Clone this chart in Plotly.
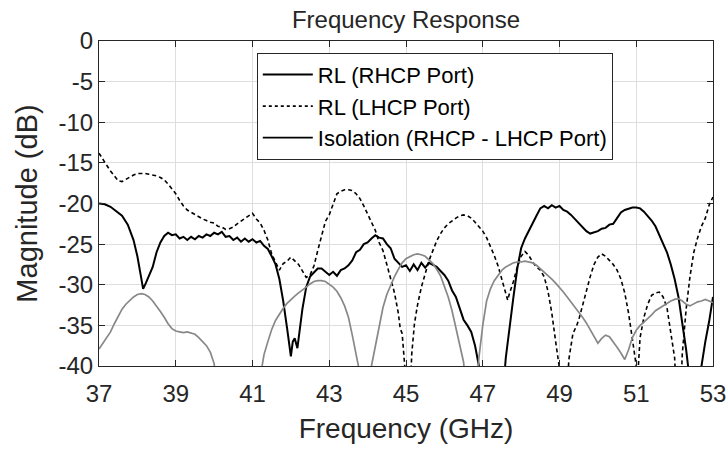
import plotly.graph_objects as go

# ---- data ----
rhcp_f = [37.0, 37.15, 37.3, 37.45, 37.6, 37.75, 37.9, 38.0, 38.1, 38.15, 38.22, 38.3, 38.4, 38.5, 38.6, 38.7,
          38.8, 38.9, 39.0, 39.1, 39.2, 39.3, 39.4, 39.5, 39.6, 39.7, 39.8, 39.9, 40.0, 40.1, 40.2, 40.3, 40.4,
          40.5, 40.6, 40.7, 40.8, 40.9, 41.0, 41.1, 41.2, 41.3, 41.4, 41.5, 41.6, 41.7, 41.8, 41.9, 41.95, 42.0,
          42.05, 42.1, 42.17, 42.22, 42.3, 42.4, 42.5, 42.6, 42.7, 42.8, 42.9, 43.0, 43.1, 43.2, 43.3, 43.4,
          43.5, 43.6, 43.7, 43.8, 43.9, 44.0, 44.1, 44.2, 44.3, 44.4, 44.5, 44.6, 44.7, 44.8, 44.9, 45.0, 45.1,
          45.2, 45.3, 45.4, 45.5, 45.6, 45.7, 45.8, 45.9, 46.0, 46.1, 46.2, 46.3, 46.4, 46.5, 46.6, 46.7, 46.8,
          46.9, 46.95, 47.55, 47.6, 47.7, 47.8, 47.9, 48.0, 48.1, 48.2, 48.3, 48.4, 48.5, 48.6, 48.7, 48.8, 48.9,
          49.0, 49.1, 49.2, 49.3, 49.4, 49.5, 49.6, 49.7, 49.8, 49.9, 50.0, 50.1, 50.2, 50.3, 50.4, 50.5, 50.6,
          50.7, 50.8, 50.9, 51.0, 51.1, 51.2, 51.3, 51.4, 51.5, 51.6, 51.7, 51.8, 51.9, 52.0, 52.1, 52.2, 52.3,
          52.35, 52.4, 52.65, 52.7, 52.8, 52.9, 53.0]
rhcp_db = [-20.0, -20.1, -20.4, -20.9, -21.5, -22.6, -24.5, -26.5, -29.0, -30.5, -29.8, -29.0, -27.8, -26.0, -24.8, -24.0,
           -23.6, -23.9, -23.8, -24.3, -24.1, -24.5, -24.1, -24.4, -24.0, -24.2, -23.8, -24.0, -23.6, -23.8, -23.5, -24.1, -24.0,
           -24.5, -24.2, -24.7, -24.3, -24.7, -24.4, -24.8, -24.6, -25.2, -25.6, -26.5, -27.5, -29.3, -32.0, -35.3, -37.0, -38.8,
           -37.0, -36.6, -37.8, -36.0, -33.0, -30.3, -29.0, -28.5, -28.0, -28.0, -28.4, -28.8, -28.4, -28.9, -28.2, -28.0,
           -27.6, -27.0, -26.0, -25.7, -25.0, -24.8, -24.3, -23.9, -24.2, -24.3, -25.0, -25.5, -26.8, -27.3, -27.8, -27.6, -28.3,
           -27.5, -28.2, -27.3, -27.9, -27.3, -27.6, -27.8, -28.3, -28.8, -29.5, -30.7, -31.5, -33.0, -34.3, -35.0, -35.8, -37.5,
           -40.0, -42.0, -42.0, -39.0, -35.0, -31.5, -28.0, -25.5, -24.3, -23.3, -22.5, -21.5, -20.6, -20.3, -20.6, -20.2, -20.5,
           -20.3, -20.8, -21.0, -21.4, -21.9, -22.4, -22.9, -23.4, -23.7, -23.5, -23.4, -23.1, -23.0, -22.6, -22.5, -21.8, -21.1,
           -20.8, -20.6, -20.5, -20.5, -20.6, -21.0, -21.5, -22.1, -22.8, -23.8, -24.9, -26.0, -27.5, -29.3, -31.5, -34.5, -38.0,
           -40.0, -42.0, -42.0, -40.0, -37.0, -34.5, -31.5]

lhcp_f = [37.0, 37.1, 37.2, 37.3, 37.4, 37.5, 37.6, 37.7, 37.8, 37.9, 38.0, 38.1, 38.2, 38.3, 38.4, 38.5, 38.6, 38.7,
          38.8, 38.9, 39.0, 39.1, 39.2, 39.3, 39.4, 39.5, 39.6, 39.7, 39.8, 39.9, 40.0, 40.1, 40.2, 40.3, 40.4, 40.5,
          40.6, 40.7, 40.8, 40.9, 41.0, 41.1, 41.2, 41.3, 41.4, 41.5, 41.6, 41.7, 41.8, 41.9, 42.0, 42.1, 42.2, 42.3,
          42.4, 42.5, 42.6, 42.7, 42.8, 42.9, 43.0, 43.1, 43.2, 43.3, 43.4, 43.5, 43.6, 43.7, 43.8, 43.9, 44.0, 44.1,
          44.2, 44.3, 44.4, 44.5, 44.6, 44.7, 44.8, 44.85, 44.9, 44.97, 45.0, 45.12, 45.15, 45.22, 45.3, 45.4, 45.5,
          45.6, 45.7, 45.8, 45.9, 46.0, 46.1, 46.2, 46.3, 46.4, 46.5, 46.6, 46.7, 46.8, 46.9, 47.0, 47.1, 47.2, 47.3,
          47.4, 47.5, 47.6, 47.65, 47.7, 47.8, 47.9, 48.0, 48.1, 48.2, 48.3, 48.4, 48.5, 48.6, 48.7, 48.8, 48.9, 49.0,
          49.05, 49.2, 49.25, 49.35, 49.45, 49.52, 49.6, 49.7, 49.8, 49.9, 50.0, 50.1, 50.2, 50.3, 50.4, 50.5, 50.6,
          50.7, 50.8, 50.9, 51.0, 51.03, 51.06, 51.1, 51.2, 51.3, 51.4, 51.5, 51.6, 51.7, 51.8, 51.9, 52.0, 52.03,
          52.17, 52.2, 52.26, 52.3, 52.4, 52.5, 52.6, 52.7, 52.8, 52.9, 53.0]
lhcp_db = [-13.8, -14.6, -15.3, -16.0, -16.6, -17.2, -17.3, -17.0, -16.7, -16.5, -16.3, -16.3, -16.3, -16.4, -16.5, -16.6, -16.8, -17.1,
           -17.6, -18.2, -18.8, -19.6, -20.3, -20.8, -21.1, -21.4, -21.6, -21.9, -22.1, -22.3, -22.4, -22.8, -22.9, -23.2, -23.1, -22.9,
           -22.5, -22.2, -21.8, -21.5, -21.2, -21.9, -22.4, -23.3, -24.5, -26.2, -27.3, -28.2, -27.4, -27.1, -26.6, -27.0, -27.5, -28.3,
           -29.1, -28.8, -27.7, -25.8, -24.0, -22.2, -21.4, -20.2, -18.8, -18.5, -18.3, -18.3, -18.4, -18.8, -19.4, -20.3, -21.3, -22.2,
           -23.3, -24.8, -25.8, -27.5, -29.3, -31.0, -33.5, -35.4, -36.0, -39.3, -42.0, -42.0, -38.5, -34.8, -32.5, -30.3, -28.5,
           -27.0, -25.8, -24.6, -23.7, -23.0, -22.5, -22.1, -21.8, -21.5, -21.4, -21.5, -21.8, -22.3, -22.8, -23.4, -24.2, -25.2, -26.4,
           -27.7, -29.5, -31.0, -31.9, -31.0, -29.6, -27.8, -26.5, -25.9, -26.4, -27.2, -27.8, -28.2, -29.0, -30.8, -33.5, -37.0, -40.0,
           -42.0, -42.0, -39.0, -36.0, -35.0, -34.0, -32.5, -30.7, -29.0, -27.5, -26.6, -26.2, -26.5, -27.0, -27.5, -28.2, -29.3,
           -31.0, -33.5, -36.7, -40.0, -42.0, -40.0, -36.5, -34.0, -32.4, -31.3, -31.0, -30.9, -31.5, -32.8, -36.0, -39.0, -42.0,
           -42.0, -38.5, -35.2, -33.0, -29.0, -26.0, -24.2, -22.8, -21.8, -20.2, -19.2]

iso_f = [37.0, 37.1, 37.2, 37.3, 37.4, 37.5, 37.6, 37.7, 37.8, 37.9, 38.0, 38.1, 38.2, 38.3, 38.4, 38.5, 38.6, 38.7,
         38.8, 38.9, 39.0, 39.1, 39.2, 39.3, 39.4, 39.5, 39.6, 39.7, 39.8, 39.9, 40.0, 40.05, 41.2, 41.25, 41.3, 41.4,
         41.5, 41.6, 41.7, 41.8, 41.9, 42.0, 42.1, 42.2, 42.3, 42.4, 42.5, 42.6, 42.7, 42.8, 42.9, 43.0, 43.1, 43.2,
         43.3, 43.4, 43.5, 43.6, 43.7, 43.76, 43.8, 44.05, 44.1, 44.2, 44.3, 44.4, 44.5, 44.6, 44.7, 44.8, 44.9, 45.0,
         45.1, 45.2, 45.3, 45.4, 45.5, 45.6, 45.7, 45.8, 45.9, 46.0, 46.1, 46.2, 46.3, 46.4, 46.5, 46.55, 46.85, 46.9,
         47.0, 47.1, 47.2, 47.3, 47.4, 47.5, 47.6, 47.7, 47.8, 47.9, 48.0, 48.1, 48.2, 48.3, 48.4, 48.5, 48.6, 48.7,
         48.8, 48.9, 49.0, 49.1, 49.2, 49.3, 49.4, 49.5, 49.6, 49.7, 49.8, 49.9, 50.0, 50.1, 50.2, 50.3, 50.4, 50.5,
         50.6, 50.7, 50.8, 50.9, 51.0, 51.1, 51.2, 51.3, 51.4, 51.5, 51.6, 51.7, 51.8, 51.9, 52.0, 52.1, 52.2, 52.3,
         52.4, 52.5, 52.6, 52.7, 52.8, 52.9, 53.0]
iso_db = [-37.9, -37.2, -36.5, -35.8, -34.8, -33.8, -33.0, -32.4, -31.9, -31.5, -31.2, -31.1, -31.2, -31.5, -32.0, -32.6, -33.3, -34.0,
          -34.8, -35.4, -35.7, -35.8, -35.9, -35.8, -36.0, -36.1, -36.5, -37.0, -37.5, -38.3, -39.7, -42.0, -42.0, -40.0, -38.6, -37.0,
          -35.5, -34.4, -33.6, -32.9, -32.3, -31.8, -31.4, -31.0, -30.7, -30.3, -29.9, -29.6, -29.5, -29.5, -29.6, -29.9, -30.3, -30.8,
          -31.6, -32.6, -34.0, -36.2, -38.5, -40.0, -42.0, -42.0, -40.0, -37.5, -35.0, -32.8, -31.2, -30.0, -29.0, -28.1, -27.3, -26.8,
          -26.5, -26.3, -26.2, -26.3, -26.5, -26.9, -27.4, -28.1, -28.9, -30.2, -31.5, -33.2, -35.3, -37.5, -39.5, -42.0, -42.0, -39.0,
          -35.0, -32.0, -30.5, -29.5, -28.8, -28.2, -27.8, -27.5, -27.3, -27.2, -27.2, -27.1, -27.2, -27.3, -27.6, -28.0, -28.4, -28.8,
          -29.3, -29.8, -30.3, -30.9, -31.5, -32.1, -32.7, -33.3, -34.0, -34.7, -35.5, -36.3, -37.2, -36.6, -36.2, -36.4, -37.0, -37.7,
          -38.4, -39.2, -38.0, -36.5, -35.6, -35.0, -34.6, -34.2, -33.7, -33.2, -32.9, -32.5, -32.2, -32.0, -31.8, -31.7, -32.0, -32.4,
          -32.6, -32.4, -32.1, -32.0, -31.8, -32.0, -32.2]

names = ["RL (RHCP Port)", "RL (LHCP Port)", "Isolation (RHCP - LHCP Port)"]
x_ticks = [37, 39, 41, 43, 45, 47, 49, 51, 53]
y_ticks = [0, -5, -10, -15, -20, -25, -30, -35, -40]

FONT = "Liberation Sans, Arial, sans-serif"
TXT = "#262626"

fig = go.Figure()
fig.add_trace(go.Scatter(x=rhcp_f, y=rhcp_db, mode="lines", showlegend=False,
                         line=dict(color="black", width=2)))
fig.add_trace(go.Scatter(x=lhcp_f, y=lhcp_db, mode="lines", showlegend=False,
                         line=dict(color="black", width=1.6, dash="4px,3px")))
fig.add_trace(go.Scatter(x=iso_f, y=iso_db, mode="lines", showlegend=False,
                         line=dict(color="#888888", width=1.7)))
# legend entries (all drawn black in the reference legend)
for nm, dash in zip(names, ["solid", "3px,3px", "solid"]):
    fig.add_trace(go.Scatter(x=[None], y=[None], mode="lines", name=nm,
                             line=dict(color="black", width=1.8, dash=dash)))

axis_common = dict(showline=True, linecolor="#262626", linewidth=1, mirror="allticks",
                   ticks="inside", ticklen=6, tickcolor="#262626", showgrid=True,
                   gridcolor="#dedede", gridwidth=1, zeroline=False, automargin=False,
                   tickfont=dict(family=FONT, size=24, color=TXT))

fig.update_layout(
    width=728, height=451,
    margin=dict(l=99, r=15, t=41, b=85),
    paper_bgcolor="white", plot_bgcolor="white",
    title=dict(text="Frequency Response", x=0.5, xref="paper", xanchor="center",
               y=0.956, yref="container", yanchor="middle",
               font=dict(family=FONT, size=24, color=TXT)),
    xaxis=dict(range=[37, 53], tickvals=x_ticks, ticktext=[str(v) for v in x_ticks],
               ticklabelstandoff=6,
               title=dict(text="Frequency (GHz)", font=dict(family=FONT, size=28, color=TXT), standoff=12),
               **axis_common),
    yaxis=dict(range=[-40, 0], tickvals=y_ticks, ticktext=[str(v) for v in y_ticks],
               title=dict(text="Magnitude (dB)", font=dict(family=FONT, size=29, color=TXT), standoff=12),
               **axis_common),
    legend=dict(x=0.257, y=0.964, xanchor="left", yanchor="top",
                bgcolor="white", bordercolor="#262626", borderwidth=1,
                font=dict(family=FONT, size=22, color="black"),
                itemwidth=50, tracegroupgap=0),
)

fig.write_html("out.html", config={"displayModeBar": False},
               post_script="document.body.style.margin='0';")
